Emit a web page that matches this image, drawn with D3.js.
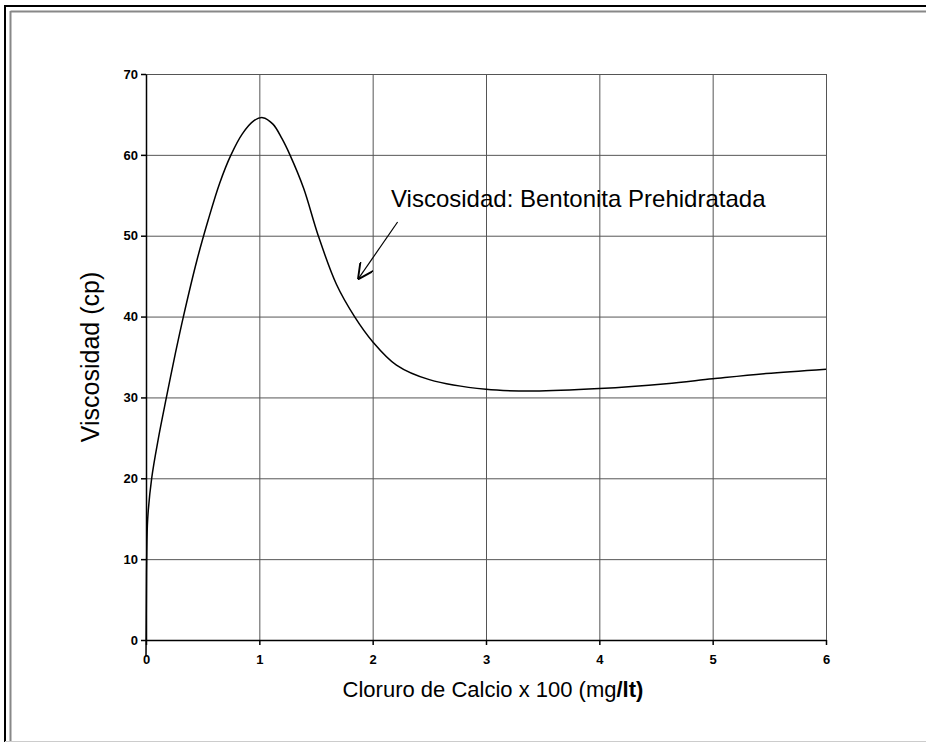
<!DOCTYPE html>
<html>
<head>
<meta charset="utf-8">
<script src="https://cdn.jsdelivr.net/npm/d3@7"></script>
<style>
  html, body { margin: 0; background: #fff; overflow: hidden; }
  svg { display: block; font-family: Arial, "Liberation Sans", sans-serif; }
</style>
</head>
<body>
<div id="chart"></div>
<script>
// Cloruro de Calcio x 100 (mg/lt)
var calcio = [0, 0.003, 0.006, 0.015, 0.05, 0.11, 0.18, 0.26, 0.33, 0.45, 0.55, 0.65, 0.75, 0.85, 0.95, 1.03,
              1.12, 1.2, 1.27, 1.39, 1.52, 1.68, 1.84, 2.0, 2.21, 2.5, 3.0, 3.42, 4.0, 4.59, 5.0, 5.47, 6.0];
// Viscosidad (cp)
var viscosidad = [-2, 5, 10, 15, 20, 25, 30, 35.5, 40, 47, 52, 56.5, 60, 62.6, 64.2, 64.6,
                  63.8, 62, 60, 55.9, 50, 44, 40, 36.9, 34, 32.2, 31, 30.8, 31.1, 31.7, 32.3, 32.95, 33.5];

var xTicks = [0, 1, 2, 3, 4, 5, 6];
var yTicks = [0, 10, 20, 30, 40, 50, 60, 70];
var etiqueta = "Viscosidad: Bentonita Prehidratada";

var width = 926, height = 742;
var margin = {left:146, right:100, top:74, bottom:102};

var svg = d3.select("#chart")
      .append("svg")
      .attr("width", width)
      .attr("height", height);

// marco exterior
svg.append("line").attr("x1",5).attr("x2",width).attr("y1",6).attr("y2",6)
   .attr("stroke","#000").attr("stroke-width",2);
svg.append("line").attr("x1",5).attr("x2",5).attr("y1",5).attr("y2",height)
   .attr("stroke","#000").attr("stroke-width",2);
svg.append("line").attr("x1",10.5).attr("x2",width).attr("y1",11.5).attr("y2",11.5)
   .attr("stroke","#888").attr("stroke-width",2);
svg.append("line").attr("x1",10.5).attr("x2",10.5).attr("y1",11).attr("y2",height)
   .attr("stroke","#888").attr("stroke-width",2);
svg.append("line").attr("x1",5).attr("x2",width).attr("y1",741.5).attr("y2",741.5)
   .attr("stroke","#ccc").attr("stroke-width",1);

var x = d3.scaleLinear()
      .domain([0, 6])
      .range([margin.left, width - margin.right]);

var y = d3.scaleLinear()
      .domain([0, 70])
      .range([height - margin.bottom, margin.top]);

var g = svg.append("g");

// gridlines
g.append("g")
  .attr("transform","translate(" + x(0) + ",0)")
  .call(d3.axisLeft(y).tickValues(yTicks).tickSize(-(x(6) - x(0))).tickFormat(""))
  .call(function(s){ s.select(".domain").remove(); })
  .selectAll("line").attr("stroke","#555");

g.append("g")
  .attr("transform","translate(0," + y(0) + ")")
  .call(d3.axisBottom(x).tickValues(xTicks).tickSize(-(y(0) - y(70))).tickFormat(""))
  .call(function(s){ s.select(".domain").remove(); })
  .selectAll("line").attr("stroke","#555");

// ejes
var yAxis = g.append("g")
  .attr("transform","translate(" + x(0) + ",0)")
  .call(d3.axisLeft(y).tickValues(yTicks).tickFormat(d3.format("d")).tickSize(5).tickSizeOuter(0).tickPadding(3));

var xAxis = g.append("g")
  .attr("transform","translate(0," + y(0) + ")")
  .call(d3.axisBottom(x).tickValues(xTicks).tickFormat(d3.format("d")).tickSize(5).tickSizeOuter(0).tickPadding(10));

[yAxis, xAxis].forEach(function(a){
  a.select(".domain").attr("stroke","#000").attr("stroke-width",1.5);
  a.selectAll(".tick line").attr("stroke","#000").attr("stroke-width",1.5);
  a.selectAll(".tick text").attr("fill","#000")
    .style("font-size","13px").style("font-weight","bold")
    .style("font-family","Arial, 'Liberation Sans', sans-serif");
});

// curva
var data = calcio.map(function(d,i){ return {x:d, v:viscosidad[i]}; });
var line = d3.line()
      .x(function(d){ return x(d.x); })
      .y(function(d){ return y(d.v); })
      .curve(d3.curveCatmullRom.alpha(0.5));

g.append("path")
  .attr("d", line(data))
  .attr("fill","none")
  .attr("stroke","#000")
  .attr("stroke-width",1.5);

// titulos
svg.append("text")
  .attr("transform","translate(99," + ((y(0) + y(70)) / 2) + ") rotate(-90)")
  .attr("text-anchor","middle")
  .style("font-size","25px")
  .text("Viscosidad (cp)");

var xt = svg.append("text")
  .attr("x", 493)
  .attr("y", 697)
  .attr("text-anchor","middle")
  .style("font-size","22px");
xt.append("tspan").text("Cloruro de Calcio x 100 (mg");
xt.append("tspan").style("font-weight","bold").text("/lt)");

// anotacion
svg.append("text")
  .attr("x", 391)
  .attr("y", 207)
  .style("font-size","24px")
  .text(etiqueta);

svg.append("defs").append("marker")
  .attr("id","flecha")
  .attr("viewBox","0 0 10 10")
  .attr("refX",10).attr("refY",5)
  .attr("markerWidth",16).attr("markerHeight",16)
  .attr("markerUnits","userSpaceOnUse")
  .attr("orient","auto")
  .append("path")
  .attr("d","M0,0 L10,5 L0,10")
  .attr("fill","none")
  .attr("stroke","#000")
  .attr("stroke-width",1.2);

svg.append("line")
  .attr("x1", x(2.22)).attr("y1", y(51.7))
  .attr("x2", x(1.87)).attr("y2", y(44.6))
  .attr("stroke","#000")
  .attr("stroke-width",1.2)
  .attr("marker-end","url(#flecha)");
</script>
</body>
</html>
